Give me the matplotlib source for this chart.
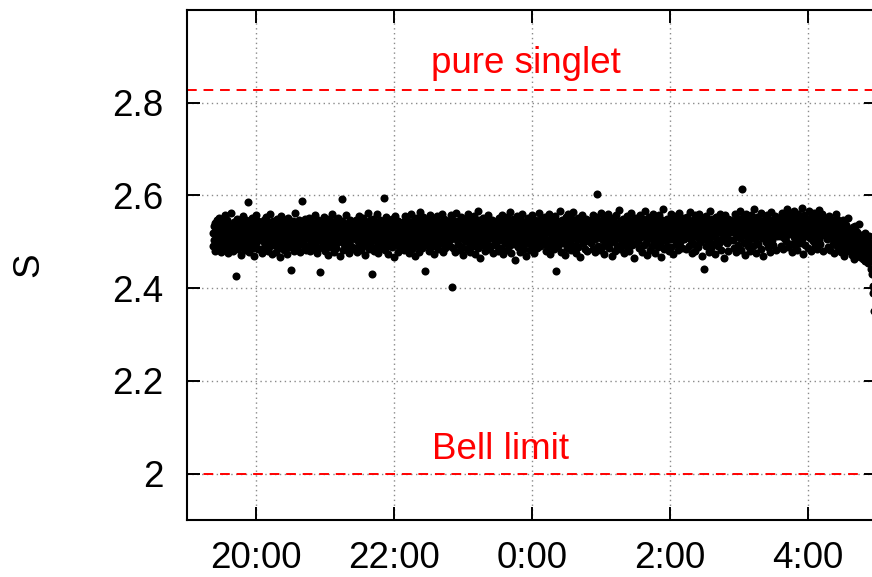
import numpy as np
import matplotlib
matplotlib.use('Agg')
import matplotlib.pyplot as plt

# S values, in units of 1e-3 above 2.5, consecutive chunks of the run (about 40 min each)
seg01 = [18, -9, 34, 5, 41, -19, 27, 0, 47, 12, -14, 30, 8, 52, -3, 22, 38, -22, 15, 44, 2, 26, -11, 35, 10, 57, -17, 20, 31, -6,
         13, 46, -25, 24, 4, 39, -12, 29, 16, 63, -1, 33, -20, 9, 42, 21, -8, 36, 6, -73, 25, 50, 14, -15, 32, 1, 45, -5, 19, 28,
         -28, 40, 11, 55, -10, 23, 3, 37, -18, 16, 48, 7, -4, 30, 85, 12, -23, 26, 43, -7, 18, 34, 0, 51, -13, 21, 9, 39, -30, 27,
         14, 58, -2, 35, 5, -16, 44, 20, 10, 31]
seg02 = [6, 29, -15, 40, 13, -24, 33, 1, 48, 19, -8, 25, 54, -3, 36, 11, -19, 43, 8, 27, -11, 17, 60, 0, 31, -27, 22, 45, 4, 14,
         -6, 38, 24, -21, 9, 50, 16, -1, 33, 7, -14, 42, 28, -33, 12, 56, 20, -9, 35, 3, 18, -17, 46, 26, -4, 10, 39, -26, 23, 2,
         52, 15, -12, 30, 7, -60, 37, 19, -7, 44, 11, 25, -20, 34, 5, 62, 14, -2, 29, -15, 41, 21, 0, 47, 9, -23, 32, 17, 87, -5,
         26, 12, 38, -10, 3, 49, 22, -18, 28, 15]
seg03 = [24, -10, 37, 8, 51, -20, 16, 31, 2, 45, -6, 27, 13, -16, 40, 20, 58, -2, 33, 9, -25, 22, 47, 5, 35, -13, 18, 29, -66, 11,
         43, 25, -8, 38, 1, 54, 15, -19, 28, 6, 42, -4, 21, 32, -29, 12, 49, 17, -11, 36, 3, 26, 61, -7, 19, 40, -22, 14, 30, 0,
         46, 23, -14, 34, 8, 52, -1, 27, 10, -31, 39, 17, 4, 44, 92, 13, -18, 29, 21, -5, 35, 9, 57, 24, -12, 31, 2, 41, 16, -24,
         26, 48, 6, -9, 37, 19, 11, -15, 33, 14]
seg04 = [9, 35, -13, 26, 48, 3, -22, 30, 17, 55, -5, 21, 39, -17, 12, 44, 0, 28, -9, 52, 15, 33, -28, 24, 7, 41, -3, 19, 63, 10,
         -15, 36, 23, -7, 46, 2, 31, -70, 18, 50, 13, -20, 27, 5, 42, -11, 34, 20, 59, -1, 25, -24, 38, 8, 16, 47, -14, 29, 11, -4,
         43, 22, 95, 4, 32, -18, 14, 53, 26, -8, 37, 6, -26, 21, 45, 12, -2, 34, 18, -12, 49, 9, 28, -32, 40, 15, 1, 56, 23, -6,
         30, 10, 44, -21, 19, 36, 3, -10, 27, 16]
seg05 = [20, -7, 43, 14, 31, -18, 26, 56, 5, 37, -12, 23, 48, 1, 33, -25, 17, 41, 10, 60, -4, 28, 13, -15, 45, 22, 6, 38, -30, 19,
         51, 11, -9, 35, 27, 2, 46, -21, 16, 30, 64, -1, 24, 40, -14, 12, 53, 8, 34, -64, 21, 44, 15, -6, 29, 3, 49, 25, -19, 36,
         9, 57, 18, -11, 32, 4, 42, 26, -27, 14, 47, 0, 39, 22, -8, 30, 55, 12, -16, 27, 7, 43, 19, -3, 35, 61, 10, -22, 24, 38,
         2, 50, 16, -13, 29, 8, 45, -5, 21, 33]
seg06 = [15, 42, -8, 29, 57, 6, -97, 34, 20, 48, -14, 25, 11, 39, -23, 31, 62, 3, 22, 45, -5, 17, 36, -18, 27, 53, 9, 40, -11, 19,
         33, -29, 24, 50, 13, 1, 44, 28, -16, 37, 7, 59, 21, -3, 32, 14, -21, 46, 26, 4, 38, -9, 18, 55, 30, -26, 12, 43, 23, -1,
         35, 66, 10, -13, 28, 47, 16, -35, 31, 5, 41, 20, -7, 52, 25, 2, 37, -19, 15, 44, 29, -4, 34, 11, 58, 22, -15, 39, 8, 27,
         -10, 48, 18, 32, -24, 14, 42, 24, 0, 36]
seg07 = [26, -6, 44, 17, 36, -20, 12, 51, 29, 3, 40, -13, 22, 58, 8, 33, -27, 19, 46, 14, -2, 37, 25, -17, 53, 10, 30, -9, 42, 21,
         65, 1, 27, -24, 35, 15, 49, -5, 23, 39, 6, -40, 31, 18, 55, 11, -12, 43, 28, 0, 36, -21, 16, 47, 24, -7, 60, 13, 33, -15,
         20, 41, 4, 29, -30, 38, 17, 52, 9, -3, 34, 26, -18, 45, 12, 22, 57, -10, 31, 7, 40, -25, 19, 48, 15, 2, 37, 27, -14, 44,
         10, 63, 23, -8, 32, 18, 50, -1, 25, 36]
seg08 = [13, 40, -4, 31, 54, 9, -19, 36, 22, 47, -11, 27, 61, 5, 34, -26, 18, 43, 15, -7, 50, 25, 38, -16, 21, 56, 2, 32, -62, 12,
         45, 28, -9, 39, 17, 67, 6, 30, -21, 24, 48, 11, -2, 42, 19, 35, -29, 26, 53, 14, -13, 37, 8, 59, 23, -5, 44, 29, 0, 33,
         -18, 20, 49, 16, 64, -8, 27, 41, 10, -24, 35, 22, 4, 52, 30, -12, 18, 46, 13, -33, 39, 25, 57, 7, -3, 31, 43, 15, -15, 28,
         50, 21, 1, 37, -20, 24, 45, 11, 33, 19]
seg09 = [21, 47, -3, 33, 12, 58, -15, 28, 40, 6, -23, 36, 19, 53, 104, 25, -8, 44, 14, 31, -18, 22, 63, 9, 38, -11, 27, 49, 3, 35,
         -27, 17, 55, 24, -5, 42, 30, 11, 60, -14, 20, 46, 26, -1, 37, 8, -31, 33, 51, 18, 2, 41, 28, -20, 15, 57, 23, -9, 39, 12,
         68, 32, -16, 25, 45, 5, 34, -6, 19, 50, 27, -25, 14, 43, 36, 0, 29, 55, -12, 22, 38, 10, -19, 47, 24, 4, 31, 62, 17, -7,
         40, 26, -34, 20, 52, 13, 35, -2, 28, 44]
seg10 = [16, 43, 2, 35, -13, 27, 58, 10, 39, -21, 24, 49, 14, 31, -6, 46, 20, 66, -2, 33, 8, -28, 41, 25, 54, 12, 37, -17, 22, 48,
         30, -9, 19, 61, 5, 36, 44, -24, 27, 13, 52, 1, 34, -12, 21, 57, 29, -4, 40, 16, -32, 26, 47, 9, 38, 70, 23, -15, 32, 3,
         45, 18, -8, 50, 28, 11, -20, 36, 42, 6, 25, 59, -11, 30, 15, 48, -26, 20, 39, 4, 33, -5, 55, 24, 13, 43, -18, 29, 62, 10,
         35, -1, 21, 46, 17, -14, 38, 27, 7, 51]
seg11 = [24, 8, 45, 17, -16, 36, 53, 12, 29, -8, 41, 21, 64, 3, 32, -25, 19, 48, 27, -4, 39, 14, 57, -19, 25, 44, 10, 34, -12, 22,
         60, 30, -1, 47, 16, 37, -30, 26, 52, 7, 40, 20, -58, 33, 13, 56, -9, 28, 45, 18, 2, 38, -22, 24, 66, 11, 35, -14, 21, 49,
         29, -5, 42, 15, 31, -27, 19, 54, 26, 6, 43, -10, 36, 23, 61, 0, 30, 47, -17, 20, 38, 9, 27, -35, 44, 16, 58, 12, 33, -3,
         25, 50, 18, -20, 39, 28, 4, 46, 22, 34]
seg12 = [27, 44, 5, 36, -14, 30, 59, 18, 41, -23, 25, 13, 51, 33, -6, 46, 21, 67, 9, 38, -17, 28, 113, 15, 54, -2, 35, 23, -29, 43,
         19, 61, 11, 32, -10, 48, 26, 3, 40, -19, 22, 57, 31, 14, 45, -8, 37, 24, 70, 6, 29, -25, 42, 17, 53, 34, -4, 20, 47, 12,
         39, -15, 27, 63, 25, 8, 44, -31, 30, 16, 50, 35, -1, 23, 58, 19, -12, 41, 28, 10, 48, -21, 33, 20, 65, 4, 37, 26, -7, 45,
         14, 55, 31, -18, 24, 42, 12, 36, 22, 49]
seg13 = [30, 52, 12, 40, -8, 26, 63, 19, 45, -16, 33, 8, 57, 37, 1, 49, 23, 70, 15, 42, -12, 29, 60, 20, 47, -4, 35, 25, -22, 54,
         17, 66, 10, 38, -9, 50, 28, 4, 44, -18, 24, 61, 32, 14, 48, -2, 39, 27, 73, 7, 34, -26, 45, 21, 58, 36, -6, 22, 51, 13,
         41, -13, 30, 67, 26, 9, 46, -20, 33, 18, 55, 38, 2, 25, 62, 20, -10, 43, 31, 11, 53, -15, 36, 23, 69, 5, 40, 28, -5, 48,
         16, 59, 34, -19, 27, 44, 14, 39, 24, 50]
seg14 = [25, 48, 6, 37, -12, 22, 55, 14, 40, -18, 30, 9, 46, 27, -5, 35, 17, -24, 42, 19, 60, 3, 28, 50, -9,
         12, 38, -16, 24, 1, 43, -22, 15, 31, -8, 47, -1, 20, -30, 33, 8, -5, 36, 4, -19, 26, 52, -12, 17, -3,
         7, -20, 25, -9, 13, -28, 31, -2, -14, 18, -36, 4, 34, -17, 0, -6, 22, -25, 10, -12, 38, -32, -3, 15, -20,
         -8, -27, 9, -19, -36, 3, -13, 18, -42, -22, -5, -31, 6, -15, -46, -10, 12, -25, -38, -3,
         -40, -58, -28, -70, -96, -110, -102, -150]

t_start = 19.375   # 19:22, hours (past midnight counted as 24+)
t_end = 28.96      # 4:58
pure_singlet = 2 * np.sqrt(2)
bell_limit = 2.0

xtick_hours = [20, 22, 24, 26, 28]
xtick_labels = ['20:00', '22:00', '0:00', '2:00', '4:00']
ytick_vals = [2.0, 2.2, 2.4, 2.6, 2.8]
ytick_labels = ['2', '2.2', '2.4', '2.6', '2.8']

segs = [seg01, seg02, seg03, seg04, seg05, seg06, seg07, seg08, seg09, seg10, seg11, seg12, seg13, seg14]
s = 2.5 + np.concatenate([np.array(g, dtype=float) for g in segs]) / 1000.0
t = np.linspace(t_start, t_end, len(s))

plt.rcParams['font.family'] = ['Liberation Sans', 'DejaVu Sans']
fs = 26.5

fig = plt.figure(figsize=(8.72, 5.77), dpi=100)
ax = fig.add_axes([187 / 872, 1 - 520 / 577, 690 / 872, 510 / 577])

# grid
for xh in xtick_hours:
    ax.axvline(xh, color='#8a8a8a', lw=1.0, ls=(0, (1, 2.5)), zorder=0)
for yv in ytick_vals:
    ax.axhline(yv, color='#8a8a8a', lw=1.0, ls=(0, (1, 2.5)), zorder=0)

# reference lines
ax.axhline(pure_singlet, color='red', lw=1.4, ls=(0, (5, 3.5)), zorder=1)
ax.axhline(bell_limit, color='red', lw=1.4, ls=(0, (5, 3.5)), zorder=1)
ax.text(22.53, 2.864, 'pure singlet', color='red', fontsize=fs, va='baseline', ha='left')
ax.text(22.55, 2.0325, 'Bell limit', color='red', fontsize=fs, va='baseline', ha='left')

ax.plot(t, s, 'o', ms=5.8, color='black', mec='none', zorder=2)

ax.set_xlim(19, 29)
ax.set_ylim(1.9, 3.0)
ax.set_xticks(xtick_hours)
ax.set_xticklabels(xtick_labels)
ax.set_yticks(ytick_vals)
ax.set_yticklabels(ytick_labels)
ax.tick_params(direction='in', length=9.4, width=1.4, top=True, right=True, labelsize=fs)
ax.tick_params(axis='x', pad=15)
ax.tick_params(axis='y', pad=17)
ax.minorticks_off()
for sp in ax.spines.values():
    sp.set_linewidth(1.5)

fig.text(29 / 872, 1 - 265 / 577, 'S', rotation=90, fontsize=fs, ha='center', va='center')

fig.savefig('out.png', dpi=100)
